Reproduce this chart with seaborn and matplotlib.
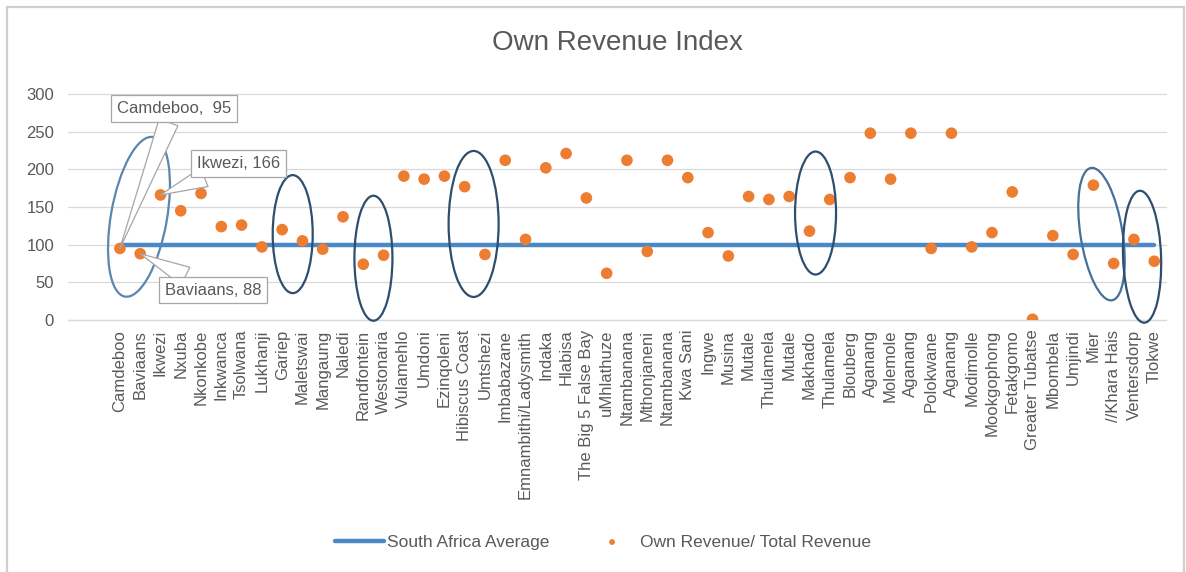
import numpy as np
import pandas as pd
import matplotlib
matplotlib.use("Agg")
import matplotlib.pyplot as plt
import matplotlib.patches as mpatches
import matplotlib.transforms as mtransforms
import seaborn as sns

# municipalities in the order they appear on the x axis
municipalities = [
    "Camdeboo", "Baviaans", "Ikwezi", "Nxuba", "Nkonkobe", "Inkwanca", "Tsolwana",
    "Lukhanji", "Gariep", "Maletswai", "Mangaung", "Naledi", "Randfontein",
    "Westonaria", "Vulamehlo", "Umdoni", "Ezinqoleni", "Hibiscus Coast", "Umtshezi",
    "Imbabazane", "Emnambithi/Ladysmith", "Indaka", "Hlabisa", "The Big 5 False Bay",
    "uMhlathuze", "Ntambanana", "Mthonjaneni", "Ntambanana", "Kwa Sani", "Ingwe",
    "Musina", "Mutale", "Thulamela", "Mutale", "Makhado", "Thulamela", "Blouberg",
    "Aganang", "Molemole", "Aganang", "Polokwane", "Aganang", "Modimolle",
    "Mookgophong", "Fetakgomo", "Greater Tubatse", "Mbombela", "Umjindi", "Mier",
    "//Khara Hais", "Ventersdorp", "Tlokwe",
]
own_revenue = [
    95, 88, 166, 145, 168, 124, 126, 97, 120, 105, 94, 137, 74, 86, 191, 187, 191,
    177, 87, 212, 107, 202, 221, 162, 62, 212, 91, 212, 189, 116, 85, 164, 160, 164,
    118, 160, 189, 248, 187, 248, 95, 248, 97, 116, 170, 1, 112, 87, 179, 75, 107, 78,
]
sa_average = 100
yticks = [0, 50, 100, 150, 200, 250, 300]

df = pd.DataFrame({"pos": np.arange(len(municipalities)),
                   "name": municipalities,
                   "ratio": own_revenue})
df["average"] = sa_average

sns.set_style("white")
plt.rcParams["font.family"] = ["Liberation Sans", "DejaVu Sans"]
grey = "#595959"

fig = plt.figure(figsize=(11.86, 5.72), dpi=100)
ax = fig.add_axes([68 / 1186, 1 - 320 / 572, (1166 - 68) / 1186, (320 - 94) / 572])

ax.yaxis.grid(True, color="#d9d9d9", lw=0.9)
ax.set_axisbelow(True)

sns.lineplot(data=df, x="pos", y="average", ax=ax, color="#4A89C8", lw=3.2,
             label="South Africa Average", zorder=2)
sns.scatterplot(data=df, x="pos", y="ratio", ax=ax, color="#ED7D31", s=70,
                edgecolor="none", label="Own Revenue/ Total Revenue", zorder=3)

ax.set_xlim(-2.56, 51.58)
ax.set_ylim(0, 300)
ax.set_yticks(yticks)
ax.set_xticks(df["pos"])
ax.set_xticklabels(municipalities, rotation=90, fontsize=12, color=grey)
ax.tick_params(axis="y", labelsize=12, labelcolor=grey, length=0, pad=10)
ax.tick_params(axis="x", length=0, pad=7)
ax.set_xlabel("")
ax.set_ylabel("")
sns.despine(ax=ax, left=True, bottom=False)
ax.spines["bottom"].set_color("#d9d9d9")
ax.spines["bottom"].set_linewidth(0.9)
for gl in ax.get_ygridlines():
    gl.set_clip_on(False)

ax.set_title("Own Revenue Index", fontsize=20, color=grey, pad=32)

# ellipses highlighting groups (size in pixels, centre in data units)
ellipses = [
    (0.94, 137, 56, 162, -10, "#5a86b0"),
    (8.52, 114, 40, 118, 0, "#2f4e6e"),
    (12.5, 82, 38, 125, 0, "#2f4e6e"),
    (17.44, 127.5, 50, 146, 0, "#2f4e6e"),
    (34.3, 142, 41, 123, 0, "#2f4e6e"),
    (48.4, 114, 42, 134, 9, "#46709a"),
    (50.4, 84, 38, 132, 2, "#2f4e6e"),
]
for xc, yc, w, h, ang, col in ellipses:
    trans = fig.dpi_scale_trans + mtransforms.ScaledTranslation(xc, yc, ax.transData)
    e = mpatches.Ellipse((0, 0), w / 100, h / 100, angle=ang, transform=trans,
                         fill=False, ec=col, lw=1.6, clip_on=False, zorder=4)
    ax.add_patch(e)

# callouts
callouts = [
    ("Camdeboo,  95", 0, 2.66, 280.8),
    ("Ikwezi, 166", 2, 5.84, 207.8),
    ("Baviaans, 88", 1, 4.59, 39.8),
]
for text, idx, tx, ty in callouts:
    ax.annotate(text, xy=(idx, own_revenue[idx]), xytext=(tx, ty),
                fontsize=12, color=grey, ha="center", va="center", zorder=6,
                bbox=dict(boxstyle="square,pad=0.35", fc="white", ec="#a6a6a6", lw=0.9),
                arrowprops=dict(arrowstyle="wedge,tail_width=1.2,shrink_factor=0.5",
                                fc="white", ec="#a6a6a6", lw=0.9,
                                shrinkA=0, shrinkB=0))

handles, labels = ax.get_legend_handles_labels()
if ax.get_legend() is not None:
    ax.get_legend().remove()
fig.legend(handles, labels, loc="center", bbox_to_anchor=(603 / 1186, 1 - 542 / 572),
           ncol=2, frameon=False, fontsize=12.5, labelcolor=grey,
           handlelength=2.8, handletextpad=0.2, columnspacing=2.2, markerscale=0.5)

# outer chart border
fig.add_artist(mpatches.Rectangle((7 / 1186, -0.01), (1184 - 7) / 1186, 1 - 7 / 572 + 0.01,
                                  transform=fig.transFigure, fill=False,
                                  ec="#cfcfcf", lw=1.6))

fig.savefig("out.png", dpi=100, facecolor="white")
